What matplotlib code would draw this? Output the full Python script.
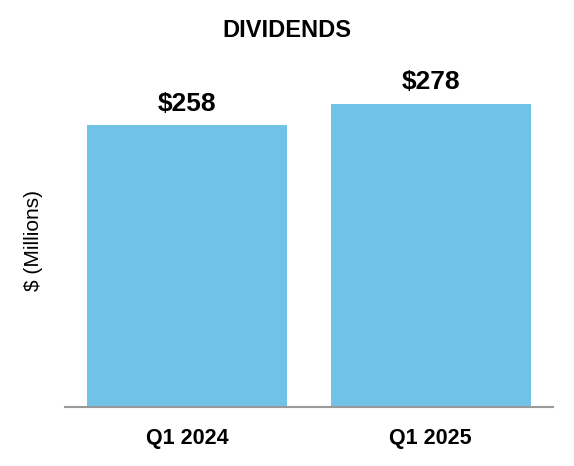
import matplotlib.pyplot as plt

plt.rcParams['font.family'] = ['Liberation Sans', 'DejaVu Sans']

periods = ['Q1 2024', 'Q1 2025']
dividends = [258, 278]
labels = ['$258', '$278']

fig = plt.figure(figsize=(5.74, 4.66), dpi=100)
ax = fig.add_axes([0.113, 0.1266, 0.85, 0.745])

x = range(len(periods))
ax.bar(x, dividends, width=0.82, color='#70C3E7')
for i, v in enumerate(dividends):
    ax.text(i, v + 9, labels[i], ha='center', va='bottom', fontsize=19, fontweight='bold')

ax.set_xlim(-0.5, 1.5)
ax.set_ylim(0, 318)
ax.set_xticks(list(x))
ax.set_xticklabels(periods, fontsize=15.5, fontweight='bold')
ax.tick_params(axis='x', length=0, pad=15)
ax.set_yticks([])
for s in ['top', 'right', 'left']:
    ax.spines[s].set_visible(False)
ax.spines['bottom'].set_color('#9a9a9a')
ax.spines['bottom'].set_linewidth(1.5)
ax.set_ylabel('$ (Millions)', fontsize=15)
ax.yaxis.set_label_coords(-0.044, 0.48)

fig.text(0.5, 0.935, 'DIVIDENDS', ha='center', va='center', fontsize=17, fontweight='bold')

fig.savefig('out.png', dpi=100)
